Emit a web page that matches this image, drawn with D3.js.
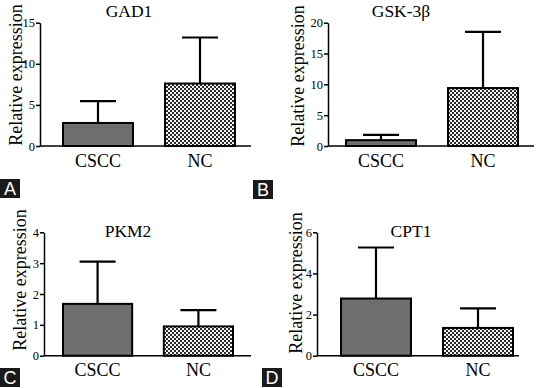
<!DOCTYPE html>
<html>
<head>
<meta charset="utf-8">
<script src="https://cdn.jsdelivr.net/npm/d3@7"></script>
<style>
  body { margin: 0; background: #fff; }
</style>
</head>
<body>
<div id="chart"></div>
<script>
// data
var categories = ["CSCC", "NC"];
var genes = ["GAD1", "GSK-3\u03b2", "PKM2", "CPT1"];
var panelLetters = ["A", "B", "C", "D"];
var meanGAD1 = [2.8, 7.6];
var errGAD1 = [2.65, 5.6];
var meanGSK = [0.95, 9.4];
var errGSK = [0.85, 9.1];
var meanPKM2 = [1.68, 0.95];
var errPKM2 = [1.37, 0.53];
var meanCPT1 = [2.78, 1.35];
var errCPT1 = [2.48, 0.95];
var yMax = [15, 20, 4, 6];
var yTicks = [[0, 5, 10, 15], [0, 5, 10, 15, 20], [0, 1, 2, 3, 4], [0, 2, 4, 6]];

var means = [meanGAD1, meanGSK, meanPKM2, meanCPT1];
var errs = [errGAD1, errGSK, errPKM2, errCPT1];

var SERIF = "'Liberation Serif', 'Times New Roman', Times, 'DejaVu Serif', serif";

// panel layout (pixels)
var layout = [
  {axisX: 40, axisEnd: 251, bars: [63, 235], top: 22.7, bottom: 146, titleX: 129, titleY: 17, labX: 16, labY: 75, xLabY: 167, box: [0, 179]},
  {axisX: 328, axisEnd: 534, bars: [346, 518], top: 22.7, bottom: 146, titleX: 401, titleY: 17, labX: 298, labY: 76, xLabY: 167, box: [253, 180]},
  {axisX: 44, axisEnd: 251, bars: [63, 233], top: 232.3, bottom: 355.7, titleX: 128, titleY: 237, labX: 20, labY: 280, xLabY: 376, box: [0, 368]},
  {axisX: 317, axisEnd: 519, bars: [341, 513], top: 232.3, bottom: 355.7, titleX: 411, titleY: 237, labX: 296, labY: 283, xLabY: 376, box: [262, 368]}
];

var svg = d3.select("#chart").append("svg")
  .attr("width", 536)
  .attr("height", 388);

// fills: fine gray grain for CSCC, checkerboard for NC
var defs = svg.append("defs");
var grain = defs.append("pattern")
  .attr("id", "grain")
  .attr("width", 2).attr("height", 2)
  .attr("patternUnits", "userSpaceOnUse");
grain.append("rect").attr("width", 2).attr("height", 2).attr("fill", "#6b6b6b");
grain.append("rect").attr("width", 1).attr("height", 1).attr("fill", "#787878");

var checker = defs.append("pattern")
  .attr("id", "checker")
  .attr("width", 4).attr("height", 4)
  .attr("patternUnits", "userSpaceOnUse");
checker.append("rect").attr("width", 4).attr("height", 4).attr("fill", "#f4f4f4");
checker.append("rect").attr("width", 2).attr("height", 2).attr("fill", "#2a2a2a");
checker.append("rect").attr("x", 2).attr("y", 2).attr("width", 2).attr("height", 2).attr("fill", "#2a2a2a");

var fills = ["url(#grain)", "url(#checker)"];

genes.forEach(function(gene, i) {
  var L = layout[i];
  var g = svg.append("g");

  var x = d3.scaleBand()
    .domain(categories)
    .range(L.bars)
    .paddingInner(0.314)
    .paddingOuter(0);

  var y = d3.scaleLinear()
    .domain([0, yMax[i]])
    .range([L.bottom, L.top]);

  var rows = categories.map(function(c, k) {
    return {cat: c, mean: means[i][k], err: errs[i][k], k: k};
  });

  // error bars (upper only), drawn first so bar covers the stem
  var eb = g.selectAll(".err").data(rows).enter().append("g").attr("class", "err");
  eb.append("line")
    .attr("x1", function(d) { return x(d.cat) + x.bandwidth() / 2; })
    .attr("x2", function(d) { return x(d.cat) + x.bandwidth() / 2; })
    .attr("y1", function(d) { return y(d.mean); })
    .attr("y2", function(d) { return y(d.mean + d.err); })
    .attr("stroke", "#000").attr("stroke-width", 2.2);
  eb.append("line")
    .attr("x1", function(d) { return x(d.cat) + x.bandwidth() / 2 - 18; })
    .attr("x2", function(d) { return x(d.cat) + x.bandwidth() / 2 + 18; })
    .attr("y1", function(d) { return y(d.mean + d.err); })
    .attr("y2", function(d) { return y(d.mean + d.err); })
    .attr("stroke", "#000").attr("stroke-width", 2.2);

  // bars
  g.selectAll(".bar").data(rows).enter().append("rect")
    .attr("class", "bar")
    .attr("x", function(d) { return x(d.cat); })
    .attr("y", function(d) { return y(d.mean); })
    .attr("width", x.bandwidth())
    .attr("height", function(d) { return L.bottom - y(d.mean); })
    .attr("fill", function(d) { return fills[d.k]; })
    .attr("stroke", "#000")
    .attr("stroke-width", 2);

  // y axis
  var yAxis = g.append("g")
    .attr("transform", "translate(" + L.axisX + ",0)")
    .call(d3.axisLeft(y)
      .tickValues(yTicks[i])
      .tickFormat(d3.format("d"))
      .tickSize(4).tickSizeOuter(0).tickPadding(1));
  yAxis.attr("font-family", null).attr("font-size", null);
  yAxis.select(".domain").attr("stroke-width", 1.5);
  yAxis.selectAll(".tick line").attr("stroke-width", 1.5);
  yAxis.selectAll(".tick text")
    .style("font-family", SERIF)
    .style("font-size", "12.5px")
    .attr("fill", "#000");

  // x baseline
  g.append("line")
    .attr("x1", L.axisX).attr("x2", L.axisEnd)
    .attr("y1", L.bottom).attr("y2", L.bottom)
    .attr("stroke", "#000").attr("stroke-width", 1.5);

  // category labels
  g.selectAll(".cat").data(categories).enter().append("text")
    .attr("x", function(d) { return x(d) + x.bandwidth() / 2; })
    .attr("y", L.xLabY)
    .attr("text-anchor", "middle")
    .style("font-family", SERIF)
    .style("font-size", "18px")
    .text(function(d) { return d; });

  // title
  g.append("text")
    .attr("x", L.titleX).attr("y", L.titleY)
    .attr("text-anchor", "middle")
    .style("font-family", SERIF)
    .style("font-size", "17.5px")
    .text(gene);

  // y label
  g.append("text")
    .attr("transform", "translate(" + L.labX + "," + L.labY + ") rotate(-90)")
    .attr("text-anchor", "middle")
    .attr("dy", "0.35em")
    .style("font-family", SERIF)
    .style("font-size", "18px")
    .text("Relative expression");

  // panel letter
  g.append("rect")
    .attr("x", L.box[0]).attr("y", L.box[1])
    .attr("width", 20).attr("height", 19)
    .attr("fill", "#1a1a1a");
  g.append("text")
    .attr("x", L.box[0] + 10).attr("y", L.box[1] + 16)
    .attr("text-anchor", "middle")
    .style("font-family", "'Liberation Sans', Arial, sans-serif")
    .style("font-size", "18px")
    .style("fill", "#fff")
    .text(panelLetters[i]);
});
</script>
</body>
</html>
